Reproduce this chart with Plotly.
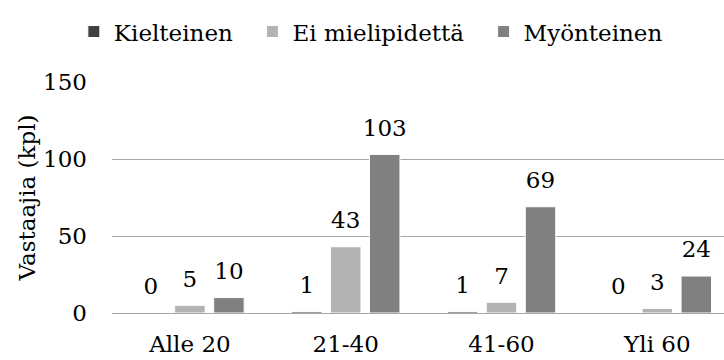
import plotly.graph_objects as go

# Survey responses by age group
categories = ["Alle 20", "21-40", "41-60", "Yli 60"]
kielteinen = [0, 1, 1, 0]
ei_mielipidetta = [5, 43, 7, 3]
myonteinen = [10, 103, 69, 24]

series = [
    ("Kielteinen", kielteinen, "#404040"),
    ("Ei mielipidettä", ei_mielipidetta, "#b3b3b3"),
    ("Myönteinen", myonteinen, "#808080"),
]

FONT = "DejaVu Serif"
FS = 23
PAD = "\u00a0\u00a0"  # extra room between legend entries

fig = go.Figure()

for i, (name, values, color) in enumerate(series):
    label = name + (PAD if i < len(series) - 1 else "")
    fig.add_trace(go.Bar(
        x=categories, y=values, name=label,
        marker=dict(color=color, line=dict(color="white", width=1)),
        offsetgroup=str(i),
        hoverinfo="x+y",
    ))

# value labels, grouped the same way as the bars
for i, (name, values, color) in enumerate(series):
    fig.add_trace(go.Scatter(
        x=categories, y=values, mode="markers+text",
        text=[str(v) for v in values], textposition="top center",
        textfont=dict(family=FONT, size=FS, color="#000000"),
        marker=dict(size=19, opacity=0),
        offsetgroup=str(i), showlegend=False, hoverinfo="skip",
        cliponaxis=False,
    ))

fig.update_layout(
    width=724, height=360,
    margin=dict(l=112, r=0, t=82, b=47),
    paper_bgcolor="white", plot_bgcolor="white",
    font=dict(family=FONT, size=FS, color="#000000"),
    barmode="group", bargap=0.249, bargroupgap=0.218,
    scattermode="group", scattergap=0.249,
    showlegend=True,
    legend=dict(
        orientation="h", xref="container", yref="container",
        x=0.102, xanchor="left", y=0.972, yanchor="top",
        font=dict(family=FONT, size=FS, color="#000000"),
        bgcolor="rgba(0,0,0,0)", traceorder="normal",
        itemwidth=30,
    ),
    xaxis=dict(
        type="category", range=[-0.5, 3.428],
        showgrid=False, showline=False, zeroline=False,
        ticks="", ticklabelstandoff=15,
        tickfont=dict(family=FONT, size=FS),
    ),
    yaxis=dict(
        range=[0, 150], tickvals=[0, 50, 100, 150],
        showgrid=True, gridcolor="#a6a6a6", gridwidth=1,
        zeroline=True, zerolinecolor="#a6a6a6", zerolinewidth=1,
        showline=False, ticks="", ticklabelstandoff=24,
        tickfont=dict(family=FONT, size=FS),
        title=dict(text="Vastaajia (kpl)", font=dict(family=FONT, size=FS), standoff=1),
    ),
)

fig.write_html("out.html")
